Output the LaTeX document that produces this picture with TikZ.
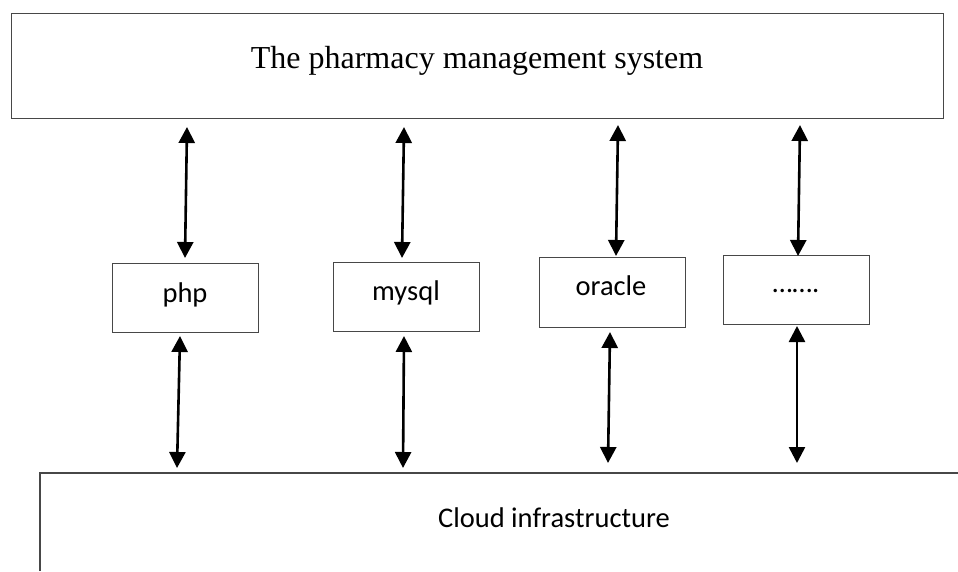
\documentclass[tikz,border=0pt]{standalone}
\usepackage{fontspec}
\setmainfont{Liberation Serif}
\newfontfamily\calibri{Carlito}
\usetikzlibrary{arrows.meta}
\begin{document}
\begin{tikzpicture}[x=1pt,y=-1pt,
  box/.style={draw=black!72, line width=1.2pt, inner sep=0pt, anchor=north west},
  link/.style={line width=2.6pt, {Triangle[width=16pt,length=16pt]}-{Triangle[width=16pt,length=16pt]}},
  lbl/.style={font=\calibri\fontsize{28.5}{32}\selectfont, inner sep=0pt, anchor=base},
  ttl/.style={font=\fontsize{32}{36}\selectfont, inner sep=0pt, anchor=base}]
\useasboundingbox (0,0) rectangle (958,571);
% top box
\node[box, minimum width=932pt, minimum height=105pt] (sys) at (11,13) {};
\node[ttl] (systext) at (477,68) {The pharmacy management system};
% middle boxes
\node[box, minimum width=146pt, minimum height=69pt] (php) at (112,263) {};
\node[lbl] (phptext) at (185,302) {php};
\node[box, minimum width=146pt, minimum height=69pt] (mysql) at (333,262) {};
\node[lbl] (mysqltext) at (406,300) {mysql};
\node[box, minimum width=146pt, minimum height=70pt] (oracle) at (539,257) {};
\node[lbl] (oracletext) at (611,295) {oracle};
\node[box, minimum width=146pt, minimum height=69pt] (other) at (723,255) {};
\node[lbl] (othertext) at (796,292) {…….};
% bottom (cloud) box, cut by the picture edge
\coordinate (cbl) at (40,571);
\coordinate (ctl) at (40,473);
\coordinate (ctr) at (958,473);
\draw[draw=black!72, line width=1.2pt] (cbl) -- (ctl) -- (ctr);
\node[lbl] (cloud) at (554,527) {Cloud infrastructure};
% connector end points
\coordinate (a1) at (187,127); \coordinate (a2) at (185,258);
\coordinate (a3) at (180,336); \coordinate (a4) at (177,468);
\coordinate (b1) at (404,127); \coordinate (b2) at (402,258);
\coordinate (b3) at (404,336); \coordinate (b4) at (403,468);
\coordinate (c1) at (618,125); \coordinate (c2) at (616,256);
\coordinate (c3) at (610,332); \coordinate (c4) at (608,463);
\coordinate (d1) at (800,125); \coordinate (d2) at (798,256);
\coordinate (d3) at (797,326); \coordinate (d4) at (797,463);
\draw[link] (a1) -- (a2);
\draw[link] (a3) -- (a4);
\draw[link] (b1) -- (b2);
\draw[link] (b3) -- (b4);
\draw[link] (c1) -- (c2);
\draw[link] (c3) -- (c4);
\draw[link] (d1) -- (d2);
\draw[link] (d3) -- (d4);
\end{tikzpicture}
\end{document}
